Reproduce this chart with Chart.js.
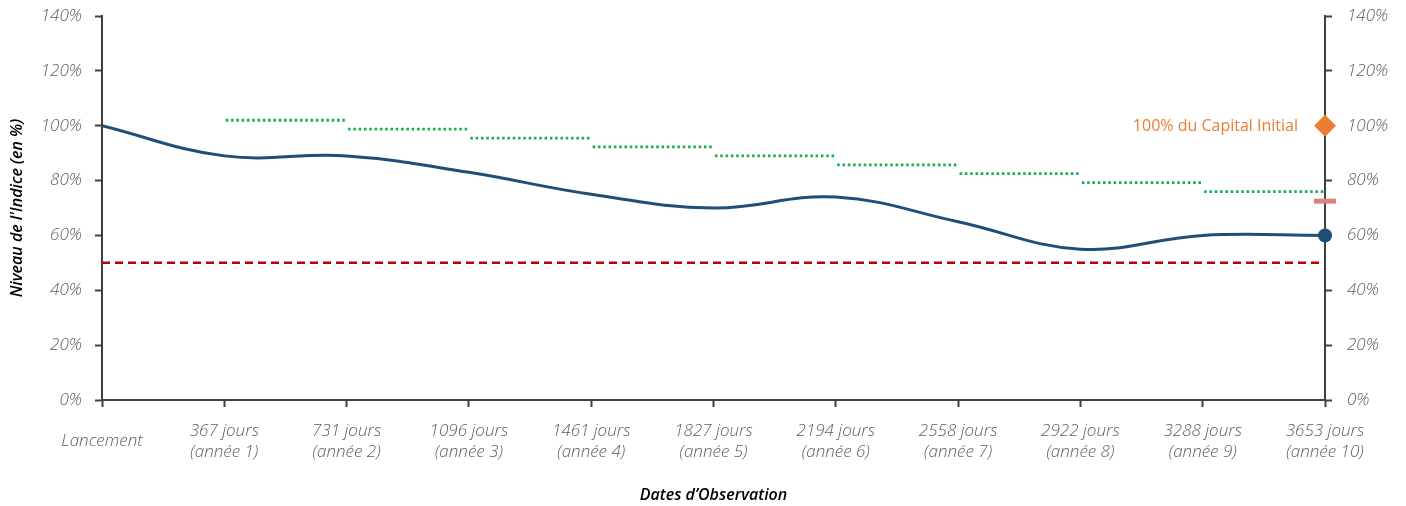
<!DOCTYPE html>
<html>
<head>
<meta charset="utf-8">
<script src="https://cdn.jsdelivr.net/npm/chart.js@4/dist/chart.umd.min.js"></script>
<style>
  html, body { margin: 0; padding: 0; background: #ffffff; }
  #wrap { width: 1406px; height: 506px; }
</style>
</head>
<body>
<div id="wrap"><canvas id="c" width="1406" height="506"></canvas></div>
<script>
// Observation dates (x axis), index 0 = launch
const dateLabels = [
  "Lancement",
  ["367 jours", "(année 1)"],
  ["731 jours", "(année 2)"],
  ["1096 jours", "(année 3)"],
  ["1461 jours", "(année 4)"],
  ["1827 jours", "(année 5)"],
  ["2194 jours", "(année 6)"],
  ["2558 jours", "(année 7)"],
  ["2922 jours", "(année 8)"],
  ["3288 jours", "(année 9)"],
  ["3653 jours", "(année 10)"]
];

// Index level (%) on each observation date
const indexLevels = [100, 89, 89, 83, 75, 70, 74, 65, 55, 60, 60];

// Early-redemption barriers (%), one segment from date k to date k+1
const barrierStart = [1, 2, 3, 4, 5, 6, 7, 8, 9];
const barrierLevels = [102, 98.75, 95.5, 92.25, 89, 85.75, 82.5, 79.25, 76];

// Capital protection barrier (%)
const protectionLevel = 50;

// Final markers at maturity
const finalDate = 10;
const finalIndexLevel = 60;
const finalPayoutLevel = 72.5;
const capitalLevel = 100;
const capitalLabel = "100% du Capital Initial";

// Y tick values
const yTicks = [0, 20, 40, 60, 80, 100, 120, 140];

const FONT = "'Open Sans', 'Lato', 'DejaVu Sans', sans-serif";
const AXIS = '#404040';
const TICK_TEXT = '#5f5f5f';
const NAVY = '#1f4e79';
const GREEN = '#11b04f';
const RED = '#c00000';
const ORANGE = '#ed7d31';
const PINK = '#d98484';

// Build the broken barrier line: each step is its own short segment
const segGap = 0.012;
const barrierData = [];
barrierStart.forEach((k, i) => {
  barrierData.push({ x: k + segGap, y: barrierLevels[i] });
  barrierData.push({ x: k + 1 - segGap, y: barrierLevels[i] });
  barrierData.push({ x: k + 1, y: null });
});

const tickFont = { family: FONT, size: 17, style: 'italic', weight: 300, lineHeight: 1.25 };
const titleFont = { family: FONT, size: 16, style: 'italic', weight: 600, lineHeight: 1.2 };

// Text placed to the left of the capital marker
const capitalLabelPlugin = {
  id: 'capitalLabel',
  afterDatasetsDraw(chart) {
    const meta = chart.getDatasetMeta(0);
    const pt = meta.data[0];
    if (!pt) return;
    const ctx = chart.ctx;
    ctx.save();
    ctx.font = `400 16px ${FONT}`;
    ctx.fillStyle = ORANGE;
    ctx.textAlign = 'right';
    ctx.textBaseline = 'middle';
    ctx.fillText(capitalLabel, pt.x - 27, pt.y + 1);
    ctx.restore();
  }
};

const yTickCb = v => v + '%';

function fitVertical(width) {
  return scale => {
    scale.width = width;
    scale.paddingTop = 0;
    scale.paddingBottom = 0;
  };
}

new Chart(document.getElementById('c'), {
  type: 'line',
  data: {
    datasets: [
      {
        // capital marker
        data: [{ x: finalDate, y: capitalLevel }],
        showLine: false,
        pointStyle: 'rectRot',
        pointRadius: 11,
        pointBackgroundColor: ORANGE,
        pointBorderColor: ORANGE,
        pointBorderWidth: 0,
        clip: false
      },
      {
        // final index point
        data: [{ x: finalDate, y: finalIndexLevel }],
        showLine: false,
        pointStyle: 'circle',
        pointRadius: 7,
        pointBackgroundColor: NAVY,
        pointBorderColor: NAVY,
        pointBorderWidth: 0,
        clip: false
      },
      {
        // payout dash
        data: [{ x: finalDate, y: finalPayoutLevel }],
        showLine: false,
        pointStyle: 'line',
        pointRadius: 11,
        pointBorderColor: PINK,
        pointBorderWidth: 5,
        clip: false
      },
      {
        // index path
        data: indexLevels.map((y, i) => ({ x: i, y })),
        borderColor: NAVY,
        borderWidth: 3,
        tension: 0.4,
        pointRadius: 0,
        fill: false
      },
      {
        // early-redemption barriers
        data: barrierData,
        borderColor: GREEN,
        borderWidth: 2.8,
        borderDash: [2.5, 2.8],
        borderCapStyle: 'butt',
        pointRadius: 0,
        spanGaps: false,
        fill: false
      },
      {
        // protection barrier
        data: [{ x: 0, y: protectionLevel }, { x: finalDate, y: protectionLevel }],
        borderColor: RED,
        borderWidth: 2.5,
        borderDash: [8, 5],
        pointRadius: 0,
        fill: false
      }
    ]
  },
  options: {
    responsive: false,
    animation: false,
    layout: { padding: { top: 16, left: 0, right: 0, bottom: 0 } },
    plugins: {
      legend: { display: false },
      tooltip: { enabled: false }
    },
    scales: {
      x: {
        type: 'linear',
        min: 0,
        max: dateLabels.length - 1,
        afterBuildTicks(scale) {
          scale.ticks = dateLabels.map((_, i) => ({ value: i }));
        },
        afterFit(scale) { scale.height = 106; },
        border: { display: true, color: AXIS, width: 2 },
        grid: {
          drawOnChartArea: false,
          drawTicks: true,
          tickLength: 7,
          tickColor: AXIS,
          tickWidth: 2
        },
        ticks: {
          autoSkip: false,
          maxRotation: 0,
          minRotation: 0,
          crossAlign: 'center',
          padding: 24,
          color: TICK_TEXT,
          font: tickFont,
          callback: v => dateLabels[v]
        },
        title: {
          display: true,
          text: 'Dates d’Observation',
          color: '#000000',
          font: titleFont,
          padding: { top: 0, bottom: 1 }
        }
      },
      y: {
        position: 'left',
        min: 0,
        max: 140,
        afterBuildTicks(scale) {
          scale.ticks = yTicks.map(v => ({ value: v }));
        },
        afterFit: fitVertical(102),
        border: { display: true, color: AXIS, width: 2 },
        grid: {
          drawOnChartArea: false,
          drawTicks: true,
          tickLength: 7,
          tickColor: AXIS,
          tickWidth: 2
        },
        ticks: {
          padding: 13,
          color: TICK_TEXT,
          font: tickFont,
          callback: yTickCb
        },
        title: {
          display: true,
          text: "Niveau de l'Indice (en %)",
          color: '#000000',
          font: titleFont,
          padding: { top: 8, bottom: 0 }
        }
      },
      y2: {
        position: 'right',
        display: true,
        min: 0,
        max: 140,
        afterBuildTicks(scale) {
          scale.ticks = yTicks.map(v => ({ value: v }));
        },
        afterFit: fitVertical(81),
        border: { display: true, color: AXIS, width: 2 },
        grid: {
          drawOnChartArea: false,
          drawTicks: true,
          tickLength: 7,
          tickColor: AXIS,
          tickWidth: 2
        },
        ticks: {
          padding: 15,
          color: TICK_TEXT,
          font: tickFont,
          callback: yTickCb
        }
      }
    }
  },
  plugins: [capitalLabelPlugin]
});
</script>
</body>
</html>
